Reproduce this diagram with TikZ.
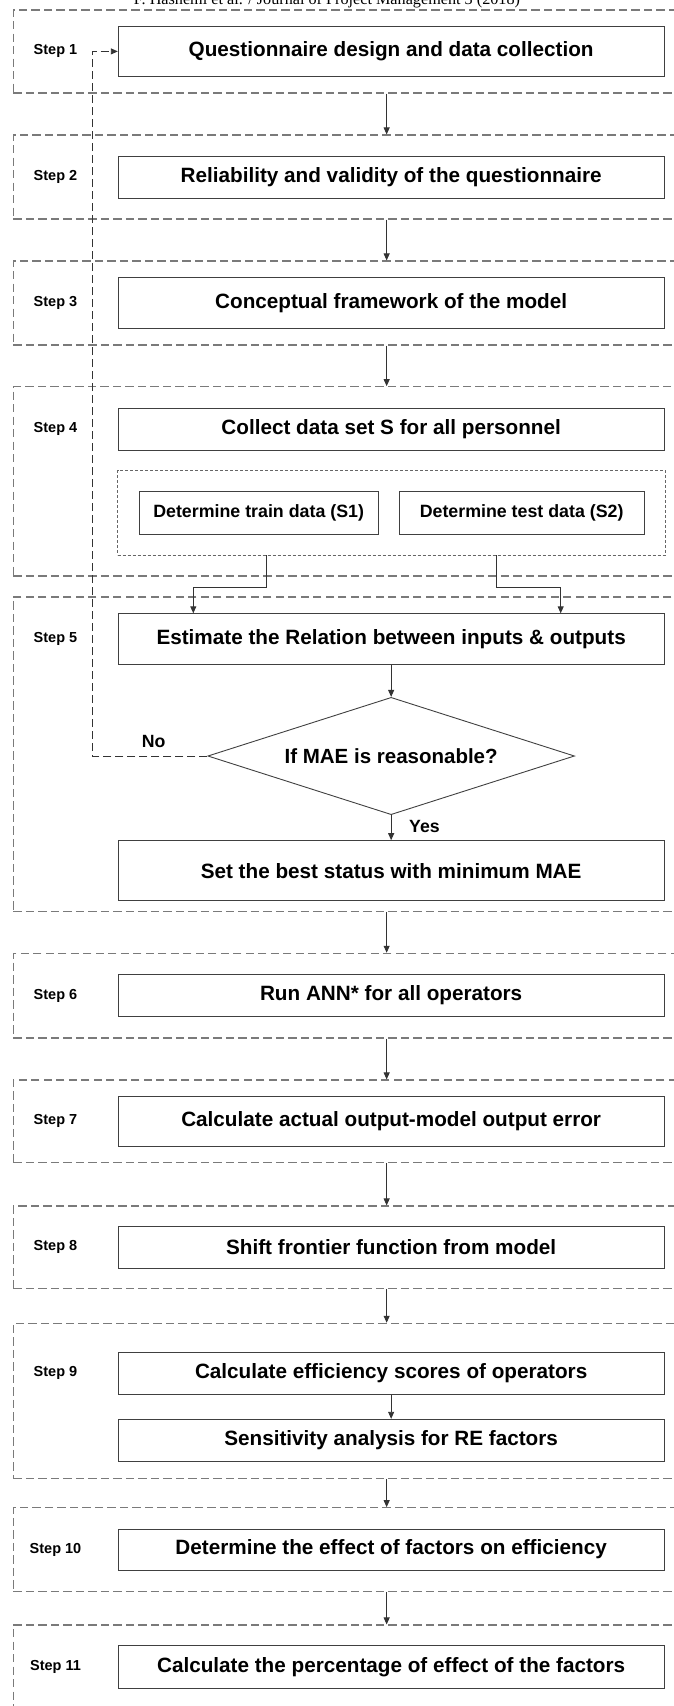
\documentclass[tikz,border=0pt]{standalone}
\usepackage{fontspec}
\setmainfont{Liberation Sans}
\newfontfamily\headfont{Liberation Serif}
\usetikzlibrary{arrows.meta,shapes.geometric,fit}

\begin{document}
\begin{tikzpicture}[
    x=1pt, y=-1pt,
    stage/.style = {rectangle, draw=black!52, line width=1.1pt, dash pattern=on 8.3pt off 4.2pt, minimum width=746.7pt, inner sep=0pt},
    box/.style = {rectangle, draw=black!75, line width=1pt, minimum width=545.7pt, inner sep=0pt, font=\fontsize{20.7}{24}\selectfont\bfseries},
    half/.style = {box, font=\fontsize{17.8}{21}\selectfont\bfseries},
    split/.style = {rectangle, draw=black!60, line width=0.9pt, dash pattern=on 3pt off 2pt},
    decision/.style = {diamond, draw=black!75, line width=0.9pt, aspect=3.126, minimum width=366.7pt, minimum height=117.3pt, inner sep=0pt, font=\fontsize{20.5}{24}\selectfont\bfseries},
    steplab/.style = {font=\fontsize{14.5}{17}\selectfont\bfseries},
    answer/.style = {font=\fontsize{17.7}{21}\selectfont\bfseries},
    arrow/.style = {draw=black!80, line width=0.9pt, -{Triangle[length=7pt,width=6pt]}},
    loop/.style = {arrow, dash pattern=on 8pt off 4pt}
]
    \useasboundingbox (0,0) rectangle (674,1706);
    \clip (0,0) rectangle (674,1706);

    \node[font=\headfont\fontsize{16.2}{18}\selectfont, anchor=base] (head) at (327, 4.5) {F. Hashemi et al. / Journal of Project Management 3 (2018)};

    % dashed frames, one per step
    \node[stage, minimum height=83pt] (s1) at (386.65, 51.5) {};
    \node[stage, minimum height=84pt] (s2) at (386.65, 177) {};
    \node[stage, minimum height=84pt] (s3) at (386.65, 303) {};
    \node[stage, minimum height=189.3pt] (s4) at (386.65, 481.35) {};
    \node[stage, minimum height=314.7pt] (s5) at (386.65, 754.35) {};
    \node[stage, minimum height=84.7pt] (s6) at (386.65, 995.65) {};
    \node[stage, minimum height=82.7pt] (s7) at (386.65, 1121.35) {};
    \node[stage, minimum height=82.3pt] (s8) at (386.65, 1247.15) {};
    \node[stage, minimum height=155pt] (s9) at (386.65, 1400.8) {};
    \node[stage, minimum height=84pt] (s10) at (386.65, 1549.7) {};
    \node[stage, minimum height=90pt] (s11) at (386.65, 1670) {};

    \node[steplab] (l1) at (55.5, 51.4) {Step 1};
    \node[steplab] (l2) at (55.5, 177.15) {Step 2};
    \node[steplab] (l3) at (55.5, 303) {Step 3};
    \node[steplab] (l4) at (55.5, 429.15) {Step 4};
    \node[steplab] (l5) at (55.5, 638.8) {Step 5};
    \node[steplab] (l6) at (55.5, 995.5) {Step 6};
    \node[steplab] (l7) at (55.5, 1121.35) {Step 7};
    \node[steplab] (l8) at (55.5, 1247.15) {Step 8};
    \node[steplab] (l9) at (55.5, 1373.15) {Step 9};
    \node[steplab] (l10) at (55.5, 1549.5) {Step 10};
    \node[steplab] (l11) at (55.5, 1667) {Step 11};

    \node[box, minimum height=49.8pt] (design) at (391.15, 51.4) {Questionnaire design and data collection};
    \node[box, minimum height=42.3pt] (reliab) at (391.15, 177.15) {Reliability and validity of the questionnaire};
    \node[box, minimum height=50.6pt] (concept) at (391.15, 303) {Conceptual framework of the model};
    \node[box, minimum height=41.7pt] (collect) at (391.15, 429.15) {Collect data set S for all personnel};
    \node[half, minimum width=239.3pt, minimum height=42.3pt] (train) at (258.65, 512.85) {Determine train data (S1)};
    \node[half, minimum width=244.7pt, minimum height=42.3pt] (test) at (521.65, 512.85) {Determine test data (S2)};
    \node[split, fit=(train)(test), inner sep=20.8pt] (sets) {};

    \node[box, minimum height=51pt] (est) at (391.15, 638.8) {Estimate the Relation between inputs \& outputs};
    \node[decision] (check) at (391.15, 756) {If MAE is reasonable?};
    \node[box, minimum height=60pt] (best) at (391.15, 870.7) {Set the best status with minimum MAE};
    \node[answer] (no) at (153.7, 741) {No};
    \node[answer] (yes) at (424.5, 826.7) {Yes};

    \node[box, minimum height=42pt] (ann) at (391.15, 995.5) {Run ANN* for all operators};
    \node[box, minimum height=50.7pt] (error) at (391.15, 1121.35) {Calculate actual output-model output error};
    \node[box, minimum height=41.7pt] (shift) at (391.15, 1247.15) {Shift frontier function from model};
    \node[box, minimum height=41.7pt] (score) at (391.15, 1373.15) {Calculate efficiency scores of operators};
    \node[box, minimum height=42.4pt] (sens) at (391.15, 1440.5) {Sensitivity analysis for RE factors};
    \node[box, minimum height=41pt] (effect) at (391.15, 1549.5) {Determine the effect of factors on efficiency};
    \node[box, minimum height=42.3pt] (share) at (391.15, 1667) {Calculate the percentage of effect of the factors};

    \coordinate (trainout) at (266, 555);
    \coordinate (testout) at (496.7, 555);
    \coordinate (trainin) at (193.3, 613.3);
    \coordinate (testin) at (560.7, 613.3);
    \coordinate (back) at (92.3, 51.4);

    % frame to frame
    \path[arrow] (s1) -- (s2);
    \path[arrow] (s2) -- (s3);
    \path[arrow] (s3) -- (s4);
    \path[arrow] (s5) -- (s6);
    \path[arrow] (s6) -- (s7);
    \path[arrow] (s7) -- (s8);
    \path[arrow] (s8) -- (s9);
    \path[arrow] (s9) -- (s10);
    \path[arrow] (s10) -- (s11);

    % data split feeds step 5
    \path[arrow] (trainout) -- ++(0,32.3) -| (trainin);
    \path[arrow] (testout) -- ++(0,32.3) -| (testin);

    \path[arrow] (est) -- (check);
    \path[arrow] (check) -- (best);
    \path[arrow] (score) -- (sens);
    \path[loop] (check.west) -| (back) -- (design);
\end{tikzpicture}
\end{document}
